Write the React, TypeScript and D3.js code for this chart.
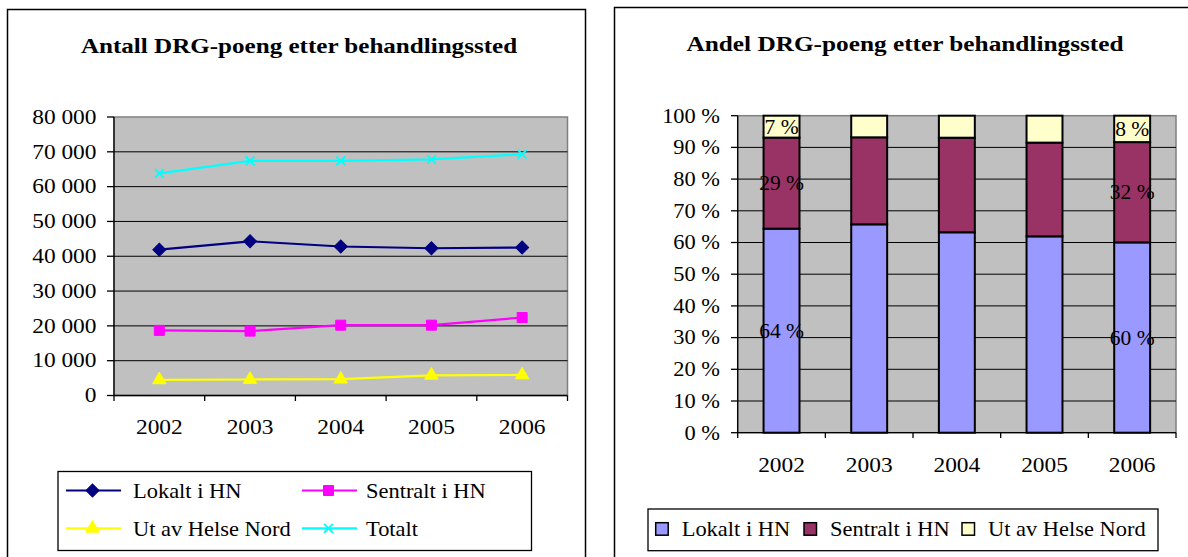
import React from "react";
import * as d3 from "d3";

const years = ["2002", "2003", "2004", "2005", "2006"];
const lokalt = [41900, 44300, 42800, 42300, 42500];
const sentralt = [18700, 18500, 20200, 20200, 22400];
const utAv = [4500, 4600, 4700, 5800, 5900];
const totalt = [63800, 67400, 67400, 67800, 69300];

const seriesNames = ["Lokalt i HN", "Sentralt i HN", "Ut av Helse Nord", "Totalt"];
const labelYears = ["2002", "2006"];

const FONT = "'Liberation Serif', 'Times New Roman', serif";

const nbFormat = d3.formatLocale({ decimal: ",", thousands: " ", grouping: [3], currency: ["", ""] }).format(",");

// text that is a bit wider than the font (the source picture was stretched sideways)
const Txt = ({ x, y, sx = 1, size = 20, anchor = "start", weight = "normal", dy = "0", children }: any) => (
  <text
    transform={`translate(${x},${y}) scale(${sx},1)`}
    fontFamily={FONT}
    fontSize={size}
    fontWeight={weight}
    textAnchor={anchor}
    dy={dy}
    fill="#000"
  >
    {children}
  </text>
);

const markers: any = {
  diamond: d3.symbol(d3.symbolSquare, 85)(),
  square: d3.symbol(d3.symbolSquare, 100)(),
  triangle: d3.symbol(d3.symbolTriangle, 78)(),
  x: d3.symbol(d3.symbolX, 52)(),
};

const lineSeries = [
  { name: seriesNames[0], values: lokalt, color: "#000080", marker: "diamond" },
  { name: seriesNames[1], values: sentralt, color: "#FF00FF", marker: "square" },
  { name: seriesNames[2], values: utAv, color: "#FFFF00", marker: "triangle" },
  { name: seriesNames[3], values: totalt, color: "#00FFFF", marker: "x" },
];

const Marker = ({ type, color, x, y }: any) => {
  if (type === "x") {
    return <path d={markers.x} transform={`translate(${x},${y})`} fill="none" stroke={color} strokeWidth={2} />;
  }
  const rot = type === "diamond" ? " rotate(45)" : "";
  return <path d={markers[type]} transform={`translate(${x},${y})${rot}`} fill={color} stroke={color} strokeWidth={1} />;
};

const LineChart = () => {
  const x = d3.scaleBand().domain(years).range([114, 567.5]);
  const y = d3.scaleLinear().domain([0, 80000]).range([395.5, 117]);
  const yTicks = d3.range(0, 80001, 10000);
  const line = (vals: number[]) =>
    d3.line<number>().x((_, i) => x(years[i])! + x.bandwidth() / 2).y((v) => y(v))(vals);
  const boundaries = years.map((yr) => x(yr)!).concat([567.5]);

  const legendCols = [66, 302];
  const legendRows = [490.5, 528.3];

  return (
    <g>
      <rect x={7.5} y={9.5} width={578} height={600} fill="#fff" stroke="#000" strokeWidth={1.5} />
      <Txt x={299} y={52.7} size={22} sx={1.14} weight="bold" anchor="middle">
        Antall DRG-poeng etter behandlingssted
      </Txt>
      <rect x={114} y={117} width={453.5} height={278.5} fill="#C0C0C0" stroke="#808080" strokeWidth={1.5} />
      {yTicks.slice(1, -1).map((t) => (
        <line key={t} x1={114} x2={567.5} y1={y(t)} y2={y(t)} stroke="#000" strokeWidth={1} />
      ))}
      <line x1={114} x2={114} y1={117} y2={395.5} stroke="#000" strokeWidth={1.3} />
      <line x1={114} x2={567.5} y1={395.5} y2={395.5} stroke="#000" strokeWidth={1.3} />
      {yTicks.map((t) => (
        <g key={t}>
          <line x1={107} x2={114} y1={y(t)} y2={y(t)} stroke="#000" strokeWidth={1.3} />
          <Txt x={96.5} y={y(t)} dy="0.34em" size={20} sx={1.17} anchor="end">
            {nbFormat(t)}
          </Txt>
        </g>
      ))}
      {boundaries.map((b, i) => (
        <line key={i} x1={b} x2={b} y1={395.5} y2={401} stroke="#000" strokeWidth={1.3} />
      ))}
      {years.map((yr) => (
        <Txt key={yr} x={x(yr)! + x.bandwidth() / 2} y={433.5} size={20} sx={1.17} anchor="middle">
          {yr}
        </Txt>
      ))}
      {lineSeries.map((s) => (
        <g key={s.name}>
          <path d={line(s.values)!} fill="none" stroke={s.color} strokeWidth={2.2} />
          {s.values.map((v, i) => (
            <Marker key={i} type={s.marker} color={s.color} x={x(years[i])! + x.bandwidth() / 2} y={y(v)} />
          ))}
        </g>
      ))}
      <rect x={58} y={471.5} width={473.5} height={79} fill="#fff" stroke="#000" strokeWidth={1.3} />
      {lineSeries.map((s, i) => {
        const lx = legendCols[i % 2];
        const ly = legendRows[Math.floor(i / 2)];
        return (
          <g key={s.name}>
            <line x1={lx} x2={lx + 55} y1={ly} y2={ly} stroke={s.color} strokeWidth={2.2} />
            <Marker type={s.marker} color={s.color} x={lx + 26.5} y={ly} />
            <Txt x={i % 2 === 0 ? lx + 67 : lx + 64} y={ly} dy="0.34em" size={22} sx={1.02}>
              {s.name}
            </Txt>
          </g>
        );
      })}
    </g>
  );
};

const barKeys = ["lokalt", "sentralt", "utAv"];
const barColors = ["#9999FF", "#993366", "#FFFFCC"];

const BarChart = () => {
  const table = years.map((yr, i) => ({ year: yr, lokalt: lokalt[i], sentralt: sentralt[i], utAv: utAv[i] }));
  const stacked = d3.stack<any>().keys(barKeys).offset(d3.stackOffsetExpand)(table);
  const x = d3.scaleBand().domain(years).range([737.7, 1176]).paddingInner(0.59).paddingOuter(0.295);
  const y = d3.scaleLinear().domain([0, 1]).range([432.7, 115.7]);
  const yTicks = d3.range(0, 11).map((d) => d / 10);
  const step = x.step();
  const boundaries = years.map((_, i) => 737.7 + i * step).concat([1176]);
  const pct = (v: number) => `${Math.round(v * 100)} %`;

  const legendItems = [
    { sw: 655.7, tx: 681.7 },
    { sw: 804, tx: 830 },
    { sw: 962, tx: 988 },
  ];

  return (
    <g>
      <rect x={614.5} y={7.5} width={600} height={600} fill="#fff" stroke="#000" strokeWidth={1.5} />
      <Txt x={905} y={50.7} size={22} sx={1.15} weight="bold" anchor="middle">
        Andel DRG-poeng etter behandlingssted
      </Txt>
      <rect x={737.7} y={115.7} width={438.3} height={317} fill="#C0C0C0" stroke="#808080" strokeWidth={1.5} />
      {yTicks.slice(1, -1).map((t) => (
        <line key={t} x1={737.7} x2={1176} y1={y(t)} y2={y(t)} stroke="#000" strokeWidth={1} />
      ))}
      <line x1={737.7} x2={737.7} y1={115.7} y2={432.7} stroke="#000" strokeWidth={1.3} />
      <line x1={737.7} x2={1176} y1={432.7} y2={432.7} stroke="#000" strokeWidth={1.3} />
      {yTicks.map((t) => (
        <g key={t}>
          <line x1={731} x2={737.7} y1={y(t)} y2={y(t)} stroke="#000" strokeWidth={1.3} />
          <Txt x={720} y={y(t)} dy="0.34em" size={20} sx={1.12} anchor="end">
            {pct(t)}
          </Txt>
        </g>
      ))}
      {boundaries.map((b, i) => (
        <line key={i} x1={b} x2={b} y1={432.7} y2={438} stroke="#000" strokeWidth={1.3} />
      ))}
      {years.map((yr) => (
        <Txt key={yr} x={x(yr)! + x.bandwidth() / 2} y={471.7} size={20} sx={1.17} anchor="middle">
          {yr}
        </Txt>
      ))}
      {stacked.map((layer, k) => (
        <g key={layer.key}>
          {layer.map((d: any) => (
            <rect
              key={d.data.year}
              x={x(d.data.year)}
              y={y(d[1])}
              width={x.bandwidth()}
              height={y(d[0]) - y(d[1])}
              fill={barColors[k]}
              stroke="#000"
              strokeWidth={2}
            />
          ))}
        </g>
      ))}
      {stacked.map((layer) =>
        layer
          .filter((d: any) => labelYears.includes(d.data.year))
          .map((d: any) => (
            <Txt
              key={layer.key + d.data.year}
              x={x(d.data.year)! + x.bandwidth() / 2}
              y={y((d[0] + d[1]) / 2)}
              dy="0.34em"
              size={20.5}
              sx={1.05}
              anchor="middle"
            >
              {pct(d[1] - d[0])}
            </Txt>
          ))
      )}
      <rect x={648} y={509} width={510} height={41.7} fill="#fff" stroke="#000" strokeWidth={1.3} />
      {legendItems.map((it, i) => (
        <g key={i}>
          <rect x={it.sw} y={522.7} width={12.5} height={12.5} fill={barColors[i]} stroke="#000" strokeWidth={1.5} />
          <Txt x={it.tx} y={528.5} dy="0.34em" size={22} sx={1.02}>
            {seriesNames[i]}
          </Txt>
        </g>
      ))}
    </g>
  );
};

export default function App() {
  return (
    <svg
      width={1188}
      height={557}
      style={{ position: "absolute", left: 0, top: 0, background: "#fff" }}
    >
      <LineChart />
      <BarChart />
    </svg>
  );
}
